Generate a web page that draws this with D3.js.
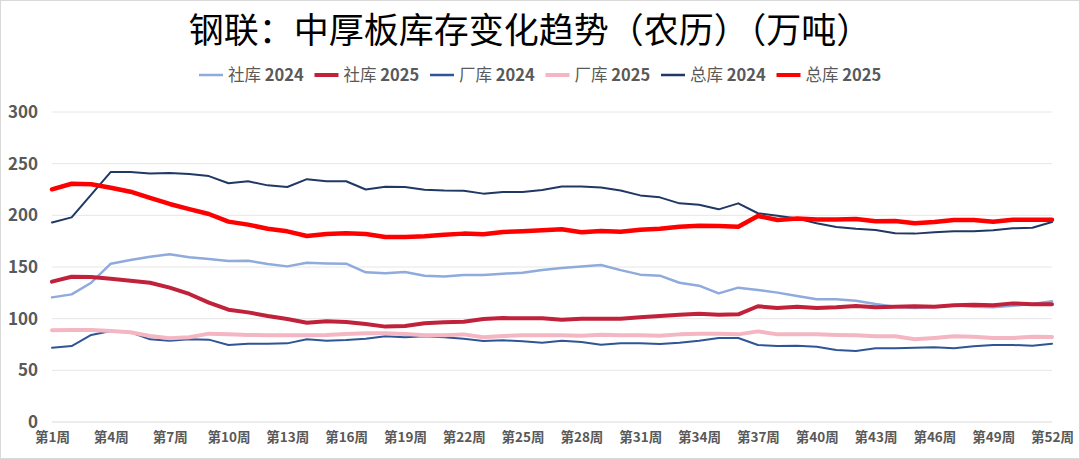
<!DOCTYPE html>
<html>
<head>
<meta charset="utf-8">
<script src="https://cdn.jsdelivr.net/npm/d3@7"></script>
<style>
  body { margin: 0; background: #fff; }
  svg { display: block; font-family: "Noto Sans CJK SC", "Noto Sans", sans-serif; }
</style>
</head>
<body>
<div id="plot"></div>
<script>
// weeks 1..52 (lunar calendar)
var weeks = d3.range(1, 53);
var tickWeeks = d3.range(1, 53, 3);
var yTicks = [0, 50, 100, 150, 200, 250, 300];

var seriesNames = ["社库 2024", "社库 2025", "厂库 2024", "厂库 2025", "总库 2024", "总库 2025"];

var she2024 = [120.6, 123.5, 134.8, 153.2, 156.8, 160.0, 162.3, 159.4, 157.7, 155.8, 156.1, 152.9, 150.6,
  154.2, 153.5, 153.2, 144.8, 143.9, 145.2, 141.6, 140.9, 142.3, 142.3, 143.5, 144.5, 147.0,
  149.0, 150.6, 151.9, 147.0, 142.6, 141.6, 134.8, 131.9, 124.5, 130.0, 127.7, 125.2, 121.9,
  118.7, 118.7, 117.4, 114.2, 111.6, 110.3, 111.6, 112.9, 111.6, 111.0, 112.5, 114.2, 116.8];

var she2025 = [135.8, 140.6, 140.3, 138.7, 136.8, 134.8, 130.0, 123.9, 115.5, 108.7, 106.1, 102.6, 99.7,
  96.1, 97.4, 96.8, 94.8, 92.3, 92.9, 95.5, 96.5, 97.1, 99.7, 100.6, 100.3, 100.3,
  99.0, 100.0, 100.0, 100.0, 101.3, 102.6, 103.9, 104.8, 103.9, 104.2, 112.0, 110.3, 111.6,
  110.3, 111.0, 112.3, 111.0, 111.6, 112.0, 111.6, 112.9, 113.5, 112.9, 114.8, 113.9, 113.9];

var chang2024 = [71.9, 73.5, 84.2, 88.0, 86.8, 80.0, 78.7, 80.0, 79.7, 74.5, 75.8, 75.8, 76.1,
  80.0, 78.7, 79.4, 80.6, 82.9, 82.0, 82.9, 82.0, 80.6, 78.4, 79.0, 78.1, 76.8,
  78.7, 77.4, 74.8, 76.1, 76.1, 75.5, 76.8, 78.7, 81.3, 81.3, 74.5, 73.5, 73.9,
  72.9, 69.7, 68.7, 71.3, 71.3, 71.9, 72.3, 71.3, 73.2, 74.5, 74.5, 73.9, 75.8];

var chang2025 = [88.7, 89.0, 89.0, 88.0, 86.8, 83.2, 81.0, 82.0, 85.5, 84.8, 84.2, 83.9, 83.9,
  83.9, 84.2, 85.2, 85.8, 85.8, 85.2, 83.9, 83.9, 84.8, 82.0, 83.2, 83.9, 83.9,
  83.9, 83.5, 84.5, 83.9, 83.9, 83.5, 84.8, 85.5, 85.5, 84.8, 87.7, 84.8, 84.8,
  84.8, 84.2, 83.9, 82.9, 82.9, 80.0, 81.3, 82.9, 82.6, 81.3, 81.3, 82.6, 82.3];

var zong2024 = [193.0, 198.0, 220.0, 242.0, 242.0, 240.6, 241.0, 240.0, 238.0, 231.0, 233.0, 229.0, 227.4,
  235.0, 233.0, 233.0, 225.0, 227.7, 227.4, 224.8, 224.0, 223.8, 221.0, 222.6, 222.6, 224.5,
  228.0, 228.0, 227.0, 224.0, 219.3, 217.4, 211.6, 210.3, 205.8, 211.6, 202.0, 199.7, 197.0,
  192.3, 188.7, 187.0, 185.8, 182.6, 182.3, 183.6, 184.5, 184.5, 185.5, 187.4, 188.0, 193.5];

var zong2025 = [225.2, 230.6, 230.0, 226.7, 222.9, 216.8, 211.0, 206.0, 201.3, 193.9, 191.0, 187.0, 184.5,
  180.0, 182.0, 182.6, 182.0, 179.0, 179.0, 179.7, 181.3, 182.3, 181.6, 183.9, 184.5, 185.5,
  186.5, 183.6, 184.8, 184.2, 186.1, 187.0, 189.0, 190.0, 189.7, 189.0, 199.4, 195.5, 197.0,
  196.0, 196.0, 196.5, 194.2, 194.5, 192.3, 193.5, 195.5, 195.5, 193.9, 195.8, 195.8, 195.8];

var seriesValues = [she2024, she2025, chang2024, chang2025, zong2024, zong2025];
var seriesColors = ["#8FAADC", "#C0223B", "#2F5597", "#F4B6C2", "#203864", "#FF0000"];
var seriesWidths = [2.5, 4, 2, 4, 2, 4.5];

var width = 1080, height = 459;

var svg = d3.select("#plot").append("svg")
    .attr("width", width)
    .attr("height", height);

// frame
svg.append("rect")
    .attr("x", 0.5).attr("y", 0.5)
    .attr("width", width - 1).attr("height", height - 1)
    .attr("fill", "#fff")
    .attr("stroke", "#d9d9d9");

var x = d3.scalePoint().domain(weeks).range([52, 1052]);
var y = d3.scaleLinear().domain([0, 300]).range([422, 112]);

// title
svg.append("text")
    .attr("x", 530).attr("y", 43)
    .attr("text-anchor", "middle")
    .attr("font-size", 35)
    .attr("fill", "#000")
    .text("钢联：中厚板库存变化趋势（农历）（万吨）");

// gridlines
svg.append("g")
    .selectAll("line")
    .data(yTicks)
    .enter().append("line")
    .attr("x1", x(1)).attr("x2", x(52))
    .attr("y1", d => y(d)).attr("y2", d => y(d))
    .attr("stroke", d => d === 0 ? "#d9d9d9" : "#e6e6e6")
    .attr("stroke-width", 1);

// y axis labels
var yAxis = d3.axisLeft(y).tickValues(yTicks).tickSize(0).tickPadding(0);
var gy = svg.append("g").attr("transform", "translate(38,0)").call(yAxis);
gy.select(".domain").remove();
gy.selectAll("text")
    .attr("font-size", 17)
    .attr("font-weight", "bold")
    .attr("fill", "#595959")
    .style("font-family", "'Noto Sans CJK SC', sans-serif");

// x axis labels
var xAxis = d3.axisBottom(x).tickValues(tickWeeks).tickSize(0).tickPadding(0)
    .tickFormat(d => "第" + d + "周");
var gx = svg.append("g").attr("transform", "translate(0,432)").call(xAxis);
gx.select(".domain").remove();
gx.selectAll("text")
    .attr("font-size", 13.5)
    .attr("font-weight", "bold")
    .attr("fill", "#595959")
    .style("font-family", "'Noto Sans CJK SC', sans-serif");

// lines
var line = d3.line()
    .x((d, i) => x(weeks[i]))
    .y(d => y(d));

svg.append("g")
    .selectAll("path")
    .data(seriesValues)
    .enter().append("path")
    .attr("d", d => line(d))
    .attr("fill", "none")
    .attr("stroke", (d, i) => seriesColors[i])
    .attr("stroke-width", (d, i) => seriesWidths[i])
    .attr("stroke-linejoin", "round")
    .attr("stroke-linecap", "round");

// legend
var legend = svg.append("g")
    .selectAll("g")
    .data(seriesNames)
    .enter().append("g")
    .attr("transform", (d, i) => "translate(" + (199 + i * 115.5) + ",75)");

legend.append("line")
    .attr("x1", 0).attr("x2", 24)
    .attr("y1", 0).attr("y2", 0)
    .attr("stroke", (d, i) => seriesColors[i])
    .attr("stroke-width", (d, i) => seriesWidths[i] < 3 ? 2.5 : 4);

var lt = legend.append("text")
    .attr("x", 29).attr("y", 6)
    .attr("font-size", 16.5)
    .attr("fill", "#595959");
lt.append("tspan").text(d => d.split(" ")[0] + " ");
lt.append("tspan").attr("font-weight", "bold").text(d => d.split(" ")[1]);
</script>
</body>
</html>
